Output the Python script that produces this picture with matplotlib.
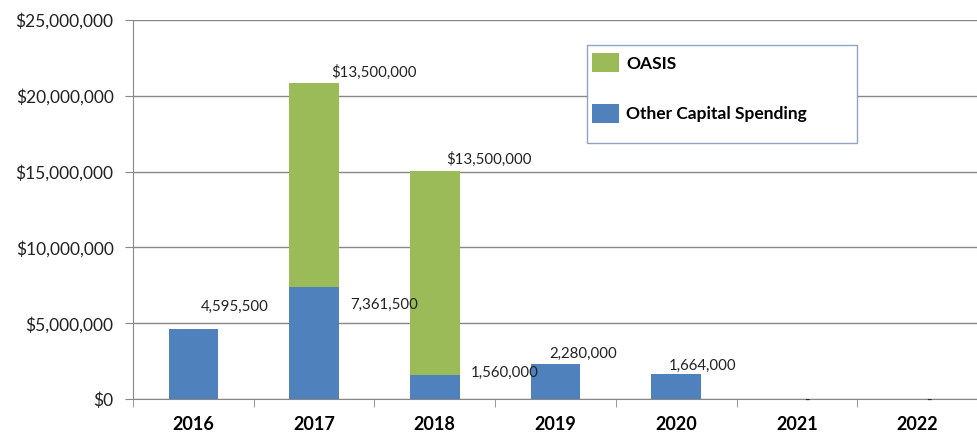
import numpy as np
import matplotlib.pyplot as plt
from matplotlib.ticker import FuncFormatter
from matplotlib.patches import Rectangle

# data
years = ['2016', '2017', '2018', '2019', '2020', '2021', '2022']
other_capital = [4595500, 7361500, 1560000, 2280000, 1664000, 0, 0]
oasis = [0, 13500000, 13500000, 0, 0, 0, 0]
other_labels = ['4,595,500', '7,361,500', '1,560,000', '2,280,000', '1,664,000', '-', '-']
oasis_labels = ['', '$13,500,000', '$13,500,000', '', '', '', '']

plt.rcParams['font.family'] = ['Lato', 'DejaVu Sans']

fig = plt.figure(figsize=(9.78, 4.37), dpi=100)
ax = fig.add_axes([0.136, 0.087, 0.864, 0.867])

x = np.arange(len(years))
blue = '#4F81BD'
green = '#9BBB59'
ax.bar(x, other_capital, width=0.41, color=blue, label='Other Capital Spending', zorder=2)
ax.bar(x, oasis, width=0.41, bottom=other_capital, color=green, label='OASIS', zorder=2)

# data labels (offsets from the bar tops, manual placement like the original)
other_dx = [0.34, 0.58, 0.58, 0.23, 0.22, 0.08, 0.09]
other_dy = [1.47e6, -1.16e6, 0.16e6, 0.69e6, 0.52e6, -0.15e6, -0.15e6]
for i in range(len(years)):
    ax.text(x[i] + other_dx[i], other_capital[i] + other_dy[i], other_labels[i],
            ha='center', va='center', fontsize=10.8, color='#222222')
    if oasis_labels[i]:
        top = other_capital[i] + oasis[i]
        ax.text(x[i] + 0.5 - (i - 1) * 0.05, top + 0.72e6, oasis_labels[i],
                ha='center', va='center', fontsize=10.8, color='#222222')

ax.set_xlim(-0.5, 6.5)
ax.set_ylim(0, 25000000)
ax.set_yticks(np.arange(0, 25000001, 5000000))
ax.yaxis.set_major_formatter(FuncFormatter(lambda v, p: f'${v:,.0f}'))
ax.set_xticks(x)
ax.set_xticklabels(years, fontsize=13, fontweight='bold')
ax.set_xticks(np.arange(-0.5, 6.6, 1), minor=True)
ax.tick_params(axis='x', which='major', length=0, pad=12)
ax.tick_params(axis='x', which='minor', length=6, color='#888888')
ax.tick_params(axis='y', length=6, color='#888888', labelsize=12.5, pad=8, labelcolor='#222222')

ax.grid(axis='y', color='#888888', linewidth=1, zorder=0)
for s in ['top', 'right']:
    ax.spines[s].set_visible(False)
ax.spines['left'].set_color('#888888')
ax.spines['bottom'].set_color('#888888')

# legend box drawn separately so it can be wider than its entries
fig.patches.append(Rectangle((587 / 978, 1 - 143 / 437), 270 / 978, 98 / 437,
                             transform=fig.transFigure, facecolor='white',
                             edgecolor='#8EA4C0', linewidth=1, zorder=3))
handles, labels = ax.get_legend_handles_labels()
leg = fig.legend(handles[::-1], labels[::-1], loc='upper left',
                 bbox_to_anchor=(589 / 978, 1 - 50 / 437), frameon=False,
                 prop={'weight': 'bold', 'size': 12.5}, handlelength=1.5, handleheight=1.3,
                 labelspacing=1.8, borderpad=0.2, handletextpad=0.45, borderaxespad=0)
leg.set_zorder(4)

plt.savefig('out.png', dpi=100)
